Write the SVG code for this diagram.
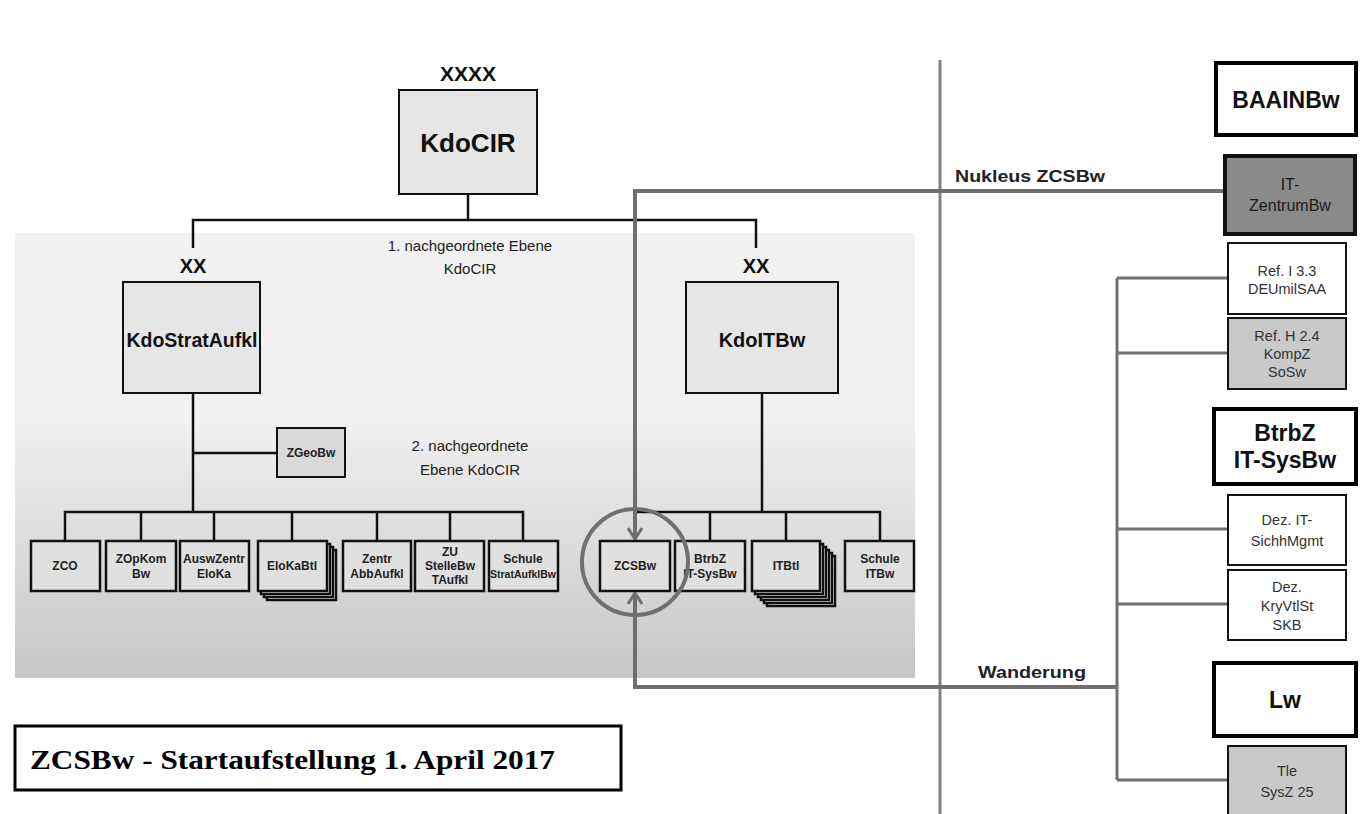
<svg xmlns="http://www.w3.org/2000/svg" width="1362" height="814" viewBox="0 0 1362 814">
<style>
.box{fill:#e6e6e6;stroke:#111;stroke-width:2}
.rbox{fill:#e0e0e0;stroke:#111;stroke-width:2.5}
.wbox{fill:#fff;stroke:#111;stroke-width:2}
.gbox{fill:#c9c9c9;stroke:#111;stroke-width:2}
.tbox{fill:#fff;stroke:#000;stroke-width:4}
.blk{fill:none;stroke:#111;stroke-width:2.5}
.gry{fill:none;stroke:#6f6f6f;stroke-width:4}
.gry3{fill:none;stroke:#707070;stroke-width:3}
text{font-family:"Liberation Sans",Arial,sans-serif;text-anchor:middle;fill:#111}
.b{font-weight:bold}
.s{font-size:12px;font-weight:bold;fill:#222}
.r{font-size:14.5px;fill:#333}
.big{font-size:23px;font-weight:bold}
.lvl{font-size:15px;fill:#222}
</style>
<defs>
<linearGradient id="g2" x1="0" y1="0" x2="0" y2="1">
<stop offset="0" stop-color="#f0f0f0"/>
<stop offset="1" stop-color="#c6c6c6"/>
</linearGradient>
<marker id="ah" viewBox="0 0 16 16" refX="14" refY="8" markerWidth="16" markerHeight="16" markerUnits="userSpaceOnUse" orient="auto">
<path d="M3,1 L14,8 L3,15" fill="none" stroke="#6f6f6f" stroke-width="3"/>
</marker>
</defs>
<rect width="1362" height="814" fill="#fff"/>
<g id="panels">
<rect x="15" y="233" width="900" height="190" fill="#f1f1f1"/>
<rect x="15" y="423" width="900" height="255" fill="url(#g2)"/>
<text class="lvl" x="470" y="251">1. nachgeordnete Ebene</text>
<text class="lvl" x="470" y="274">KdoCIR</text>
<text class="lvl" x="470" y="451">2. nachgeordnete</text>
<text class="lvl" x="470" y="475">Ebene KdoCIR</text>
</g>
<g id="connectors">
<path class="blk" d="M468,194 V220 M193,248 V220 H756 V248"/>
<path class="blk" d="M193,393 V512 M193,453 H277 M65,541 V512 H523 V541 M141,512 V541 M214,512 V541 M292,512 V541 M377,512 V541 M450,512 V541"/>
<path class="blk" d="M762,393 V512 M635,512 H880 V541 M710,512 V541 M786,512 V541"/>
<path d="M940,60 V814" fill="none" stroke="#808080" stroke-width="3"/>
<path class="gry" d="M1224,191 H635 V539" marker-end="url(#ah)"/>
<path class="gry" d="M1117,687 H635 V593" marker-end="url(#ah)"/>
<path class="gry3" d="M1117,278 V780 M1117,278 H1228 M1117,353 H1228 M1117,529 H1228 M1117,604 H1228 M1117,780 H1228"/>
<text class="b" x="1030" y="182" textLength="150" lengthAdjust="spacingAndGlyphs" style="font-size:16px;fill:#222">Nukleus ZCSBw</text>
<text class="b" x="1032" y="678" textLength="108" lengthAdjust="spacingAndGlyphs" style="font-size:16px;fill:#222">Wanderung</text>
</g>
<g id="KdoCIR">
<text class="b" x="468" y="81" style="font-size:21px">XXXX</text>
<rect class="box" x="399" y="90" width="138" height="104"/>
<text class="b" x="468" y="152" style="font-size:26px">KdoCIR</text>
</g>
<g id="KdoStratAufkl">
<text class="b" x="193" y="273" style="font-size:20px">XX</text>
<rect class="box" x="123" y="282" width="137" height="111"/>
<text class="b" x="192" y="347" style="font-size:19.5px">KdoStratAufkl</text>
</g>
<g id="KdoITBw">
<text class="b" x="756" y="273" style="font-size:20px">XX</text>
<rect class="box" x="686" y="282" width="152" height="111"/>
<text class="b" x="762" y="347" style="font-size:20px">KdoITBw</text>
</g>
<g id="ZGeoBw">
<rect class="box" x="277" y="428" width="68" height="49" style="fill:#d9d9d9"/>
<text class="s" x="311" y="457">ZGeoBw</text>
</g>
<g id="ZCO"><rect class="rbox" x="31" y="541" width="69" height="50"/><text class="s" x="65" y="570">ZCO</text></g>
<g id="ZOpKomBw"><rect class="rbox" x="106" y="541" width="70" height="50"/><text class="s" x="141" y="563">ZOpKom</text><text class="s" x="141" y="578">Bw</text></g>
<g id="AuswZentrEloKa"><rect class="rbox" x="180" y="541" width="69" height="50"/><text class="s" x="214" y="563">AuswZentr</text><text class="s" x="214" y="578">EloKa</text></g>
<g id="EloKaBtl">
<rect class="rbox" x="267" y="550" width="69" height="50" style="fill:#fff"/>
<rect class="rbox" x="264" y="547" width="69" height="50" style="fill:#fff"/>
<rect class="rbox" x="261" y="544" width="69" height="50" style="fill:#fff"/>
<rect class="rbox" x="258" y="541" width="69" height="50"/>
<text class="s" x="292" y="570">EloKaBtl</text>
</g>
<g id="ZentrAbbAufkl"><rect class="rbox" x="343" y="541" width="68" height="50"/><text class="s" x="377" y="563">Zentr</text><text class="s" x="377" y="578">AbbAufkl</text></g>
<g id="ZUStelleBwTAufkl"><rect class="rbox" x="415" y="541" width="69" height="50"/><text class="s" x="450" y="556">ZU</text><text class="s" x="450" y="570">StelleBw</text><text class="s" x="450" y="584">TAufkl</text></g>
<g id="SchuleStratAufklBw"><rect class="rbox" x="489" y="541" width="69" height="50"/><text class="s" x="523" y="563">Schule</text><text class="s" x="523" y="578" style="font-size:10.5px">StratAufklBw</text></g>
<g id="ZCSBw"><rect class="rbox" x="600" y="541" width="70" height="50"/><text class="s" x="635" y="570">ZCSBw</text></g>
<g id="BtrbZITSysBw"><rect class="rbox" x="675" y="541" width="70" height="50"/><text class="s" x="710" y="563">BtrbZ</text><text class="s" x="710" y="578">IT-SysBw</text></g>
<g id="ITBtl">
<rect class="rbox" x="767" y="556" width="68" height="50" style="fill:#fff"/>
<rect class="rbox" x="764" y="553" width="68" height="50" style="fill:#fff"/>
<rect class="rbox" x="761" y="550" width="68" height="50" style="fill:#fff"/>
<rect class="rbox" x="758" y="547" width="68" height="50" style="fill:#fff"/>
<rect class="rbox" x="755" y="544" width="68" height="50" style="fill:#fff"/>
<rect class="rbox" x="752" y="541" width="68" height="50"/>
<text class="s" x="786" y="570">ITBtl</text>
</g>
<g id="SchuleITBw"><rect class="rbox" x="845" y="541" width="69" height="50"/><text class="s" x="880" y="563">Schule</text><text class="s" x="880" y="578">ITBw</text></g>
<g id="circle"><circle cx="635" cy="562" r="53" fill="none" stroke="#707070" stroke-width="4"/></g>
<g id="BAAINBw"><rect class="tbox" x="1216" y="63" width="140" height="72"/><text class="big" x="1286" y="108">BAAINBw</text></g>
<g id="ITZentrumBw"><rect x="1225" y="156" width="130" height="78" fill="#8a8a8a" stroke="#111" stroke-width="4"/><text x="1290" y="190" style="font-size:16px;fill:#1a1a1a">IT-</text><text x="1290" y="211" style="font-size:16px;fill:#1a1a1a">ZentrumBw</text></g>
<g id="RefI33"><rect class="wbox" x="1228" y="243" width="118" height="71"/><text class="r" x="1287" y="276">Ref. I 3.3</text><text class="r" x="1287" y="294">DEUmilSAA</text></g>
<g id="RefH24"><rect class="gbox" x="1228" y="318" width="118" height="71"/><text class="r" x="1287" y="341">Ref. H 2.4</text><text class="r" x="1287" y="359">KompZ</text><text class="r" x="1287" y="377">SoSw</text></g>
<g id="BtrbZITSysBwR"><rect class="tbox" x="1214" y="409" width="142" height="75"/><text class="big" x="1285" y="441">BtrbZ</text><text class="big" x="1285" y="468">IT-SysBw</text></g>
<g id="DezITSichhMgmt"><rect class="wbox" x="1228" y="495" width="118" height="70"/><text class="r" x="1287" y="525">Dez. IT-</text><text class="r" x="1287" y="546">SichhMgmt</text></g>
<g id="DezKryVtlStSKB"><rect class="wbox" x="1228" y="570" width="118" height="70"/><text class="r" x="1287" y="592">Dez.</text><text class="r" x="1287" y="611">KryVtlSt</text><text class="r" x="1287" y="630">SKB</text></g>
<g id="Lw"><rect class="tbox" x="1214" y="663" width="142" height="73"/><text class="big" x="1285" y="708">Lw</text></g>
<g id="TleSysZ25"><rect class="gbox" x="1228" y="746" width="118" height="72"/><text class="r" x="1287" y="776">Tle</text><text class="r" x="1287" y="797">SysZ 25</text></g>
<g id="title"><rect x="15" y="726" width="606" height="64" fill="#fff" stroke="#000" stroke-width="3"/><text x="30" y="769" textLength="525" lengthAdjust="spacingAndGlyphs" style="font-family:'Liberation Serif','Times New Roman',serif;font-size:28px;font-weight:bold;text-anchor:start;fill:#000">ZCSBw - Startaufstellung 1. April 2017</text></g>
</svg>
